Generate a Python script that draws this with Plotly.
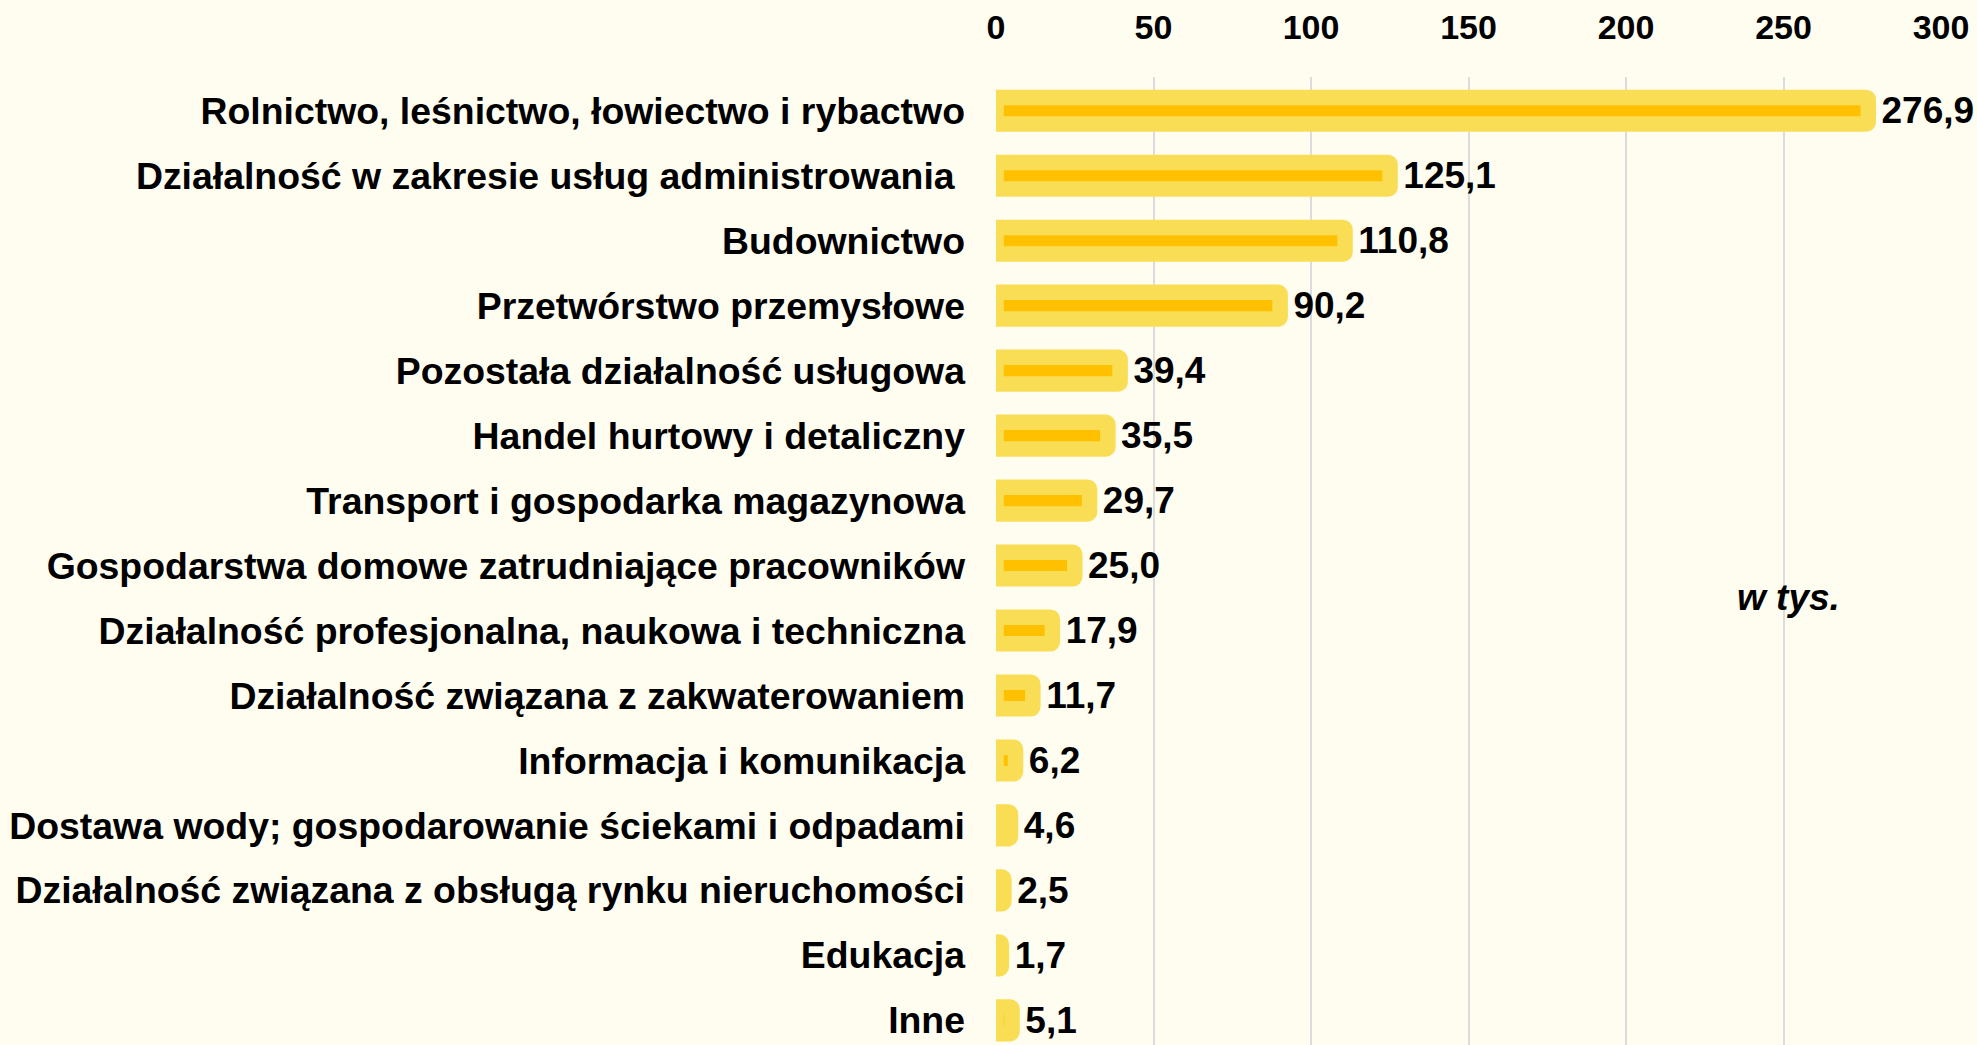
import plotly.graph_objects as go

categories = [
    "Rolnictwo, leśnictwo, łowiectwo i rybactwo",
    "Działalność w zakresie usług administrowania\u00a0",
    "Budownictwo",
    "Przetwórstwo przemysłowe",
    "Pozostała działalność usługowa",
    "Handel hurtowy i detaliczny",
    "Transport i gospodarka magazynowa",
    "Gospodarstwa domowe zatrudniające pracowników",
    "Działalność profesjonalna, naukowa i techniczna",
    "Działalność związana z zakwaterowaniem",
    "Informacja i komunikacja",
    "Dostawa wody; gospodarowanie ściekami i odpadami",
    "Działalność związana z obsługą rynku nieruchomości",
    "Edukacja",
    "Inne",
]
values = [276.9, 125.1, 110.8, 90.2, 39.4, 35.5, 29.7, 25.0, 17.9, 11.7, 6.2, 4.6, 2.5, 1.7, 5.1]
x_ticks = [0, 50, 100, 150, 200, 250, 300]

FONT = "Liberation Sans, Arial, sans-serif"
BG = "#FFFDF0"

fig = go.Figure()
fig.add_trace(go.Bar(
    x=values,
    y=categories,
    orientation="h",
    width=0.41,
    marker=dict(color="#FFC000", line=dict(color="#F9DE55", width=15.5), cornerradius=2),
    texttemplate="\u00a0%{x:.1f}",
    textposition="outside",
    textfont=dict(family=FONT, size=37, color="#000000", weight="bold"),
    cliponaxis=False,
    constraintext="none",
    hoverinfo="skip",
))

fig.add_annotation(
    text="<b><i>w tys.</i></b>",
    xref="paper", yref="paper", x=0.895, y=0.462,
    showarrow=False,
    font=dict(family=FONT, size=37, color="#000000"),
)

fig.update_layout(
    width=1977, height=1045,
    margin=dict(l=996, r=36, t=77, b=0),
    paper_bgcolor=BG, plot_bgcolor=BG,
    separators=", ",
    showlegend=False,
    bargap=0.59,
    xaxis=dict(
        side="top", range=[0, 300], tickvals=x_ticks,
        showgrid=True, gridcolor="#DCDCDC", gridwidth=2,
        zeroline=False, showline=False, ticks="",
        ticklabelstandoff=30,
        tickfont=dict(family=FONT, size=34, color="#000000", weight="bold"),
        fixedrange=True,
    ),
    yaxis=dict(
        type="category", range=[14.38, -0.52],
        showgrid=False, zeroline=False, showline=False, ticks="",
        ticklabelstandoff=30,
        tickfont=dict(family=FONT, size=37.4, color="#000000", weight="bold"),
        fixedrange=True,
    ),
)

fig.write_html(
    "out.html",
    config={"displayModeBar": False},
    post_script="document.body.style.margin='0';document.body.style.background='" + BG + "';",
)
